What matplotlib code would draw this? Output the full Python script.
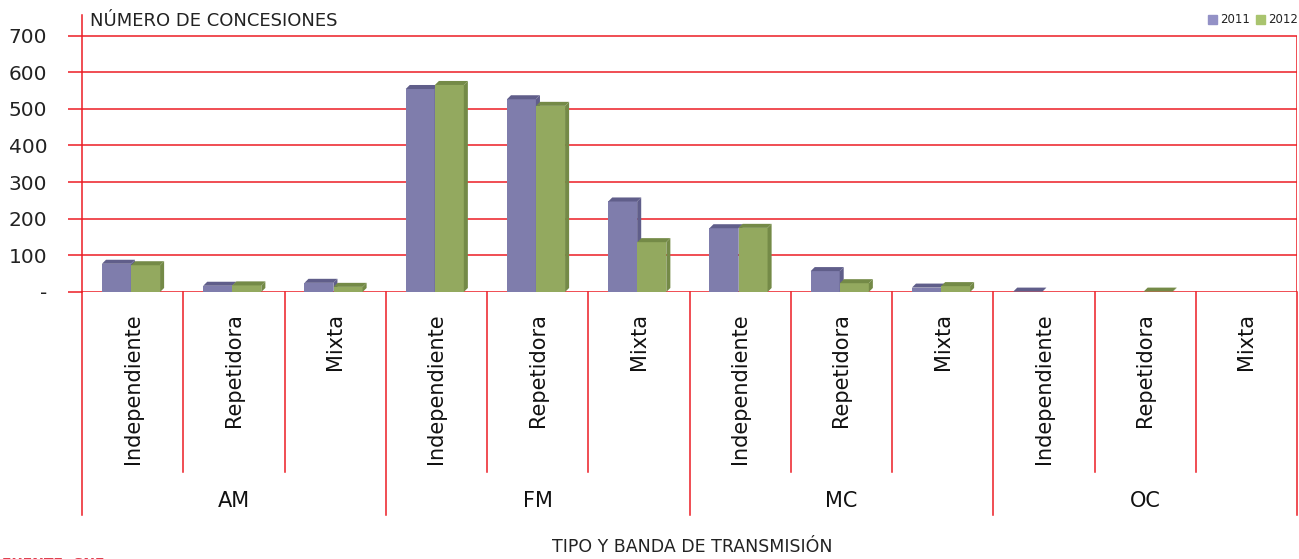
import numpy as np
import matplotlib.pyplot as plt

# datos: número de concesiones por tipo y banda
bandas = ['AM', 'FM', 'MC', 'OC']
tipos = ['Independiente', 'Repetidora', 'Mixta']
conc_2011 = [77, 17, 25, 554, 526, 247, 174, 57, 12, 1, 0, 0]
conc_2012 = [73, 18, 14, 565, 508, 136, 175, 24, 16, 0, 1, 0]
yticks = [0, 100, 200, 300, 400, 500, 600, 700]
ytick_labels = ['-', '100', '200', '300', '400', '500', '600', '700']

red = '#EC1C24'
c11, c11_dark = '#7F7DAC', '#605E8A'
c12, c12_dark = '#93A95F', '#748A47'

W, H = 1299, 559
fig = plt.figure(figsize=(W / 100, H / 100), dpi=100)
ax = fig.add_axes([82 / W, 267 / H, 1215 / W, 277 / H])

n = len(conc_2011)
x = np.arange(n)
w = 0.286
dx = 0.04          # profundidad 3D en unidades de categoría
dy = 11            # profundidad 3D en unidades de datos


def bar3d(xc, vals, col, dark):
    x0s = xc - w / 2
    ax.bar(xc, vals, width=w, color=col, zorder=3, linewidth=0)
    for x0, h in zip(x0s, vals):
        if h <= 0:
            continue
        ax.fill([x0, x0 + w, x0 + w + dx, x0 + dx], [h, h, h + dy, h + dy],
                color=dark, zorder=3, lw=0)
        ax.fill([x0 + w, x0 + w + dx, x0 + w + dx, x0 + w], [0, dy, h + dy, h],
                color=dark, zorder=3, lw=0)


bar3d(x - 0.16, conc_2011, c11, c11_dark)
bar3d(x + 0.128, conc_2012, c12, c12_dark)

ax.set_xlim(-0.5, n - 0.5)
ax.set_ylim(0, 756)
ax.set_yticks(yticks)
ax.set_yticklabels(ytick_labels, fontsize=14.5, color='#222222')
ax.tick_params(axis='y', length=10, width=1.1, color=red, pad=15)
ax.set_xticks([])
for yv in yticks:
    ax.axhline(yv, color=red, lw=1.1, zorder=1)

for s in ['top', 'right', 'bottom']:
    ax.spines[s].set_visible(False)
ax.spines['left'].set_color(red)
ax.spines['left'].set_linewidth(1.1)
ax.vlines(n - 0.5, 0, 700, color=red, lw=1.1)

# etiquetas de categoría y separadores
tr = ax.get_xaxis_transform()
y_in = -(472 - 292) / 277
y_out = -(515 - 292) / 277
for i in range(n):
    ax.text(i, -21 / 277, tipos[i % 3], transform=tr, rotation=90,
            ha='center', va='top', fontsize=15, color='#111111')
for i in range(n + 1):
    xs = i - 0.5
    y_end = y_out if i % 3 == 0 else y_in
    ax.plot([xs, xs], [0, y_end], transform=tr, color=red, lw=1.1, clip_on=False)
for g, banda in enumerate(bandas):
    ax.text(3 * g + 1, -(501 - 292) / 277, banda, transform=tr,
            ha='center', va='center', fontsize=15, color='#111111')

fig.text(90 / W, 1 - 21 / H, 'NÚMERO DE CONCESIONES', ha='left', va='center',
         fontsize=13, color='#222222')
fig.text(692 / W, 1 - 547 / H, 'TIPO Y BANDA DE TRANSMISIÓN', ha='center', va='center',
         fontsize=12.5, color='#222222')
fig.text(2 / W, 2 / H, 'FUENTE: SNE', ha='left', va='top', fontsize=10,
         color='#E0404F', fontweight='bold')

# leyenda
fig.patches.append(plt.Rectangle((1208 / W, 1 - 24 / H), 9 / W, 9 / H,
                                 transform=fig.transFigure, color='#9391C6'))
fig.text(1220 / W, 1 - 19.5 / H, '2011', ha='left', va='center', fontsize=8.5, color='#222222')
fig.patches.append(plt.Rectangle((1256 / W, 1 - 24 / H), 9 / W, 9 / H,
                                 transform=fig.transFigure, color='#A9C46E'))
fig.text(1268 / W, 1 - 19.5 / H, '2012', ha='left', va='center', fontsize=8.5, color='#222222')

fig.savefig('out.png', dpi=100)
